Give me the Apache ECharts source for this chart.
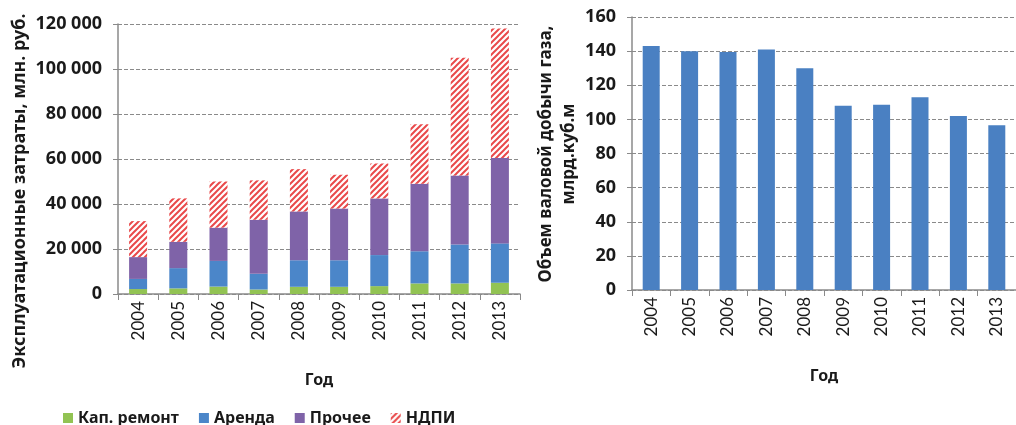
<!DOCTYPE html>
<html>
<head>
<meta charset="utf-8">
<script src="https://cdn.jsdelivr.net/npm/echarts@6/dist/echarts.min.js"></script>
<style>
  html, body { margin: 0; padding: 0; background: #fff; }
  #chart { width: 1016px; height: 425px; }
</style>
</head>
<body>
<div id="chart"></div>
<script>
// данные
var years = ['2004', '2005', '2006', '2007', '2008', '2009', '2010', '2011', '2012', '2013'];
var kapRemont = [2200, 2500, 3300, 2000, 3200, 3200, 3500, 4700, 4700, 5000];
var arenda = [4500, 9000, 11400, 7000, 11800, 11800, 13800, 14300, 17300, 17500];
var prochee = [9700, 11700, 14800, 24000, 21700, 23000, 25200, 30000, 30700, 38000];
var ndpi = [16000, 19300, 20500, 17500, 18800, 15000, 15500, 26500, 52300, 57500];
var dobycha = [143, 140, 139.5, 141, 130, 108, 108.5, 113, 102, 96.5];

var font = 'Lato, "DejaVu Sans", sans-serif';
var boldFont = '"Noto Sans", "DejaVu Sans", sans-serif';

// штриховка для НДПИ
function hatch() {
    var c = document.createElement('canvas');
    c.width = 6;
    c.height = 6;
    var ctx = c.getContext('2d');
    ctx.fillStyle = '#ffffff';
    ctx.fillRect(0, 0, 6, 6);
    ctx.strokeStyle = '#e9494a';
    ctx.lineWidth = 2;
    ctx.beginPath();
    ctx.moveTo(0, 6); ctx.lineTo(6, 0);
    ctx.moveTo(-1, 1); ctx.lineTo(1, -1);
    ctx.moveTo(5, 7); ctx.lineTo(7, 5);
    ctx.stroke();
    return c;
}

function thousands(v) {
    return String(v).replace(/\B(?=(\d{3})+(?!\d))/g, ' ');
}

var myChart = echarts.init(document.getElementById('chart'));

var yBase = {
    type: 'value',
    axisLine: { show: true, lineStyle: { color: '#8a8a8a', width: 1.5 } },
    axisTick: { show: true, length: 5, lineStyle: { color: '#8a8a8a' } },
    splitLine: { show: true, lineStyle: { color: '#8a8a8a', type: [4, 2], width: 1 } },
    axisLabel: { color: '#1a1a1a', fontSize: 18, fontWeight: 'bold', fontFamily: boldFont, margin: 16 }
};

var xBase = {
    type: 'category',
    data: years,
    axisLine: { lineStyle: { color: '#8a8a8a', width: 1.5 } },
    axisTick: { show: true, length: 6, lineStyle: { color: '#8a8a8a' } },
    axisLabel: { rotate: 90, color: '#1a1a1a', fontSize: 17, fontFamily: font, margin: 7 },
    name: 'Год',
    nameLocation: 'middle',
    nameGap: 78,
    nameTextStyle: { color: '#1a1a1a', fontSize: 16, fontWeight: 'bold', fontFamily: boldFont }
};

var option = {
    animation: false,
    backgroundColor: '#fff',
    grid: [
        { left: 118, top: 24, width: 402, height: 270 },
        { left: 632, top: 17, width: 388, height: 273 }
    ],
    legend: {
        data: ['Кап. ремонт', 'Аренда', 'Прочее', 'НДПИ'],
        left: 58,
        top: 405,
        icon: 'rect',
        itemWidth: 10,
        itemHeight: 10,
        itemGap: 20,
        textStyle: { color: '#1a1a1a', fontSize: 16, fontWeight: 'bold', fontFamily: boldFont }
    },
    xAxis: [
        Object.assign({}, xBase, { gridIndex: 0 }),
        Object.assign({}, xBase, { gridIndex: 1 })
    ],
    yAxis: [
        echarts.util.merge({ gridIndex: 0, min: 0, max: 120000, interval: 20000,
            axisLabel: { formatter: thousands } }, yBase),
        echarts.util.merge({ gridIndex: 1, min: 0, max: 160, interval: 20 }, yBase)
    ],
    graphic: [
        {
            type: 'text', x: 20, y: 191, rotation: Math.PI / 2,
            style: {
                text: 'Эксплуатационные затраты, млн. руб.',
                fill: '#1a1a1a', font: 'bold 18px ' + boldFont,
                textAlign: 'center', textVerticalAlign: 'middle'
            }
        },
        {
            type: 'text', x: 558, y: 154, rotation: Math.PI / 2,
            style: {
                text: 'Объем валовой добычи газа,\nмлрд.куб.м',
                fill: '#1a1a1a', font: 'bold 17px ' + boldFont, lineHeight: 23,
                textAlign: 'center', textVerticalAlign: 'middle'
            }
        }
    ],
    series: [
        { name: 'Кап. ремонт', type: 'bar', stack: 'z', barWidth: 18, data: kapRemont,
          itemStyle: { color: '#92c353' } },
        { name: 'Аренда', type: 'bar', stack: 'z', barWidth: 18, data: arenda,
          itemStyle: { color: '#4b86c9' } },
        { name: 'Прочее', type: 'bar', stack: 'z', barWidth: 18, data: prochee,
          itemStyle: { color: '#7f63a8' } },
        { name: 'НДПИ', type: 'bar', stack: 'z', barWidth: 18, data: ndpi,
          itemStyle: { color: { image: hatch(), repeat: 'repeat' } } },
        { name: 'Добыча', type: 'bar', xAxisIndex: 1, yAxisIndex: 1, barWidth: 17, data: dobycha,
          itemStyle: { color: '#4a80c2' } }
    ]
};

myChart.setOption(option);
</script>
</body>
</html>
